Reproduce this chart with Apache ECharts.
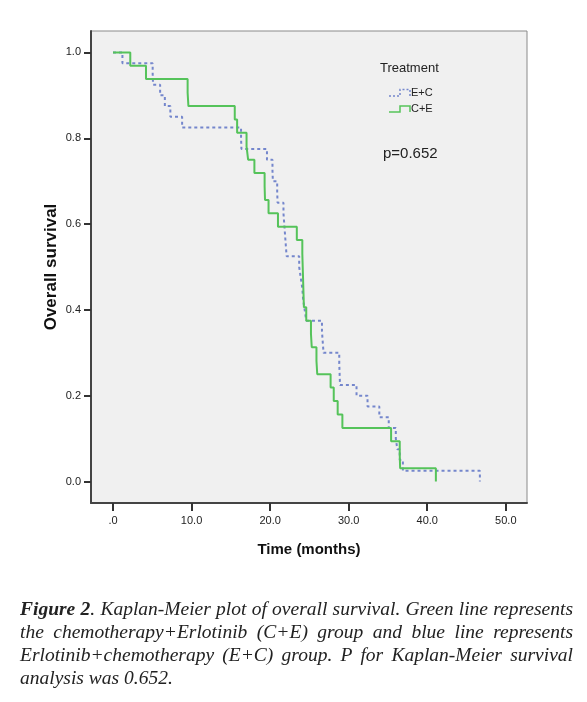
<!DOCTYPE html>
<html>
<head>
<meta charset="utf-8">
<script src="https://cdn.jsdelivr.net/npm/echarts@6/dist/echarts.min.js"></script>
<style>
  html, body { margin: 0; padding: 0; background: #fff; }
  #chart { position: absolute; left: 0; top: 0; width: 587px; height: 702px; }
  #caption {
    position: absolute; left: 20px; top: 597px; width: 553px;
    font-family: "Liberation Serif", "Times New Roman", serif;
    font-style: italic; font-size: 19.5px; line-height: 23px; color: #222;
  }
  #caption div { text-align: justify; text-align-last: justify; white-space: nowrap; }
  #caption div.last { text-align-last: left; }
</style>
</head>
<body>
<div id="chart"></div>
<div id="caption">
  <div><b>Figure 2</b>. Kaplan-Meier plot of overall survival. Green line represents</div>
  <div>the chemotherapy+Erlotinib (C+E) group and blue line represents</div>
  <div>Erlotinib+chemotherapy (E+C) group. P for Kaplan-Meier survival</div>
  <div class="last">analysis was 0.652.</div>
</div>
<script>
// Data
const seriesNames = ['E+C', 'C+E'];
const blueTimes = [0, 1.2, 5.05, 5.1, 6.0, 6.6, 7.3, 8.8, 16.3, 16.35, 19.6, 20.3, 20.35, 20.9, 20.95, 21.7, 21.8, 21.9, 22.0, 22.1, 23.7, 23.9, 24.1, 24.2, 24.4, 24.6, 26.6, 26.7, 26.8, 28.8, 28.85, 28.9, 31.0, 32.4, 33.9, 35.1, 36.0, 36.2, 36.5, 36.9, 46.7];
const blueSurv = [1.000, 0.975, 0.950, 0.925, 0.900, 0.875, 0.850, 0.825, 0.800, 0.775, 0.750, 0.725, 0.700, 0.675, 0.650, 0.625, 0.600, 0.575, 0.550, 0.525, 0.500, 0.475, 0.450, 0.425, 0.400, 0.375, 0.350, 0.325, 0.300, 0.275, 0.250, 0.225, 0.200, 0.175, 0.150, 0.125, 0.100, 0.075, 0.050, 0.025, 0.000];
const greenTimes = [0, 2.2, 4.2, 9.5, 9.6, 15.5, 15.8, 17.0, 17.2, 18.0, 19.3, 19.35, 19.8, 21.0, 23.4, 24.1, 24.15, 24.2, 24.25, 24.3, 24.6, 25.2, 25.3, 25.9, 26.0, 27.7, 28.1, 28.6, 29.2, 35.4, 36.5, 36.55, 41.1];
const greenSurv = [1.000, 0.969, 0.938, 0.906, 0.875, 0.844, 0.813, 0.781, 0.750, 0.719, 0.688, 0.656, 0.625, 0.594, 0.563, 0.531, 0.500, 0.469, 0.438, 0.406, 0.375, 0.344, 0.313, 0.281, 0.250, 0.219, 0.188, 0.156, 0.125, 0.094, 0.063, 0.031, 0.000];
const xTicks = [0, 10, 20, 30, 40, 50];
const yTicks = [0, 0.2, 0.4, 0.6, 0.8, 1.0];
const legendTitle = 'Treatment';
const pText = 'p=0.652';

const zip = (a, b) => a.map((v, i) => [v, b[i]]);
const blueColor = '#7486cc';
const greenColor = '#55c35a';
const sans = '"Liberation Sans", Arial, sans-serif';

const chart = echarts.init(document.getElementById('chart'), null, { renderer: 'canvas' });
chart.setOption({
  animation: false,
  backgroundColor: '#ffffff',
  grid: {
    left: 91, right: 60, top: 31, bottom: 199,
    show: true, backgroundColor: '#f0f0f0', borderColor: '#8a8a8a', borderWidth: 1
  },
  xAxis: {
    type: 'value', min: -2.8, max: 52.7,
    name: 'Time (months)', nameLocation: 'middle', nameGap: 39,
    nameTextStyle: { fontFamily: sans, fontWeight: 'bold', fontSize: 15, color: '#111' },
    axisLine: { show: true, onZero: false, lineStyle: { color: '#444', width: 2 } },
    axisTick: { show: true, length: 8, lineStyle: { color: '#333', width: 2 }, customValues: xTicks },
    axisLabel: {
      customValues: xTicks, margin: 12, fontFamily: sans, fontSize: 11, color: '#222',
      formatter: v => (v === 0 ? '.0' : v.toFixed(1))
    },
    splitLine: { show: false }
  },
  yAxis: {
    type: 'value', min: -0.05, max: 1.05,
    name: 'Overall survival', nameLocation: 'middle', nameGap: 31, nameRotate: 90,
    nameMoveOverlap: false,
    nameTextStyle: { fontFamily: sans, fontWeight: 'bold', fontSize: 17, color: '#111' },
    axisLine: { show: true, onZero: false, lineStyle: { color: '#444', width: 2 } },
    axisTick: { show: true, length: 7, lineStyle: { color: '#333', width: 2 }, customValues: yTicks },
    axisLabel: {
      customValues: yTicks, margin: 10, fontFamily: sans, fontSize: 11, color: '#222',
      formatter: v => v.toFixed(1)
    },
    splitLine: { show: false }
  },
  series: [
    {
      name: seriesNames[0], type: 'line', step: 'end', symbol: 'none',
      data: zip(blueTimes, blueSurv),
      lineStyle: { color: blueColor, width: 2, type: [3, 3] }
    },
    {
      name: seriesNames[1], type: 'line', step: 'end', symbol: 'none',
      data: zip(greenTimes, greenSurv),
      lineStyle: { color: greenColor, width: 2 }
    }
  ],
  graphic: [
    { type: 'text', left: 380, top: 62, style: { text: legendTitle, font: '13px ' + sans, fill: '#222' } },
    { type: 'polyline', shape: { points: [[389, 96], [400, 96], [400, 89.5], [410, 89.5], [410, 96]] },
      style: { stroke: blueColor, lineWidth: 1.5, fill: null, lineDash: [2, 2] } },
    { type: 'text', left: 411, top: 87, style: { text: seriesNames[0], font: '11px ' + sans, fill: '#222' } },
    { type: 'polyline', shape: { points: [[389, 112], [400, 112], [400, 106], [410, 106], [410, 112]] },
      style: { stroke: greenColor, lineWidth: 1.5, fill: null } },
    { type: 'text', left: 411, top: 103, style: { text: seriesNames[1], font: '11px ' + sans, fill: '#222' } },
    { type: 'text', left: 383, top: 146, style: { text: pText, font: '15px ' + sans, fill: '#222' } }
  ]
});
</script>
</body>
</html>
